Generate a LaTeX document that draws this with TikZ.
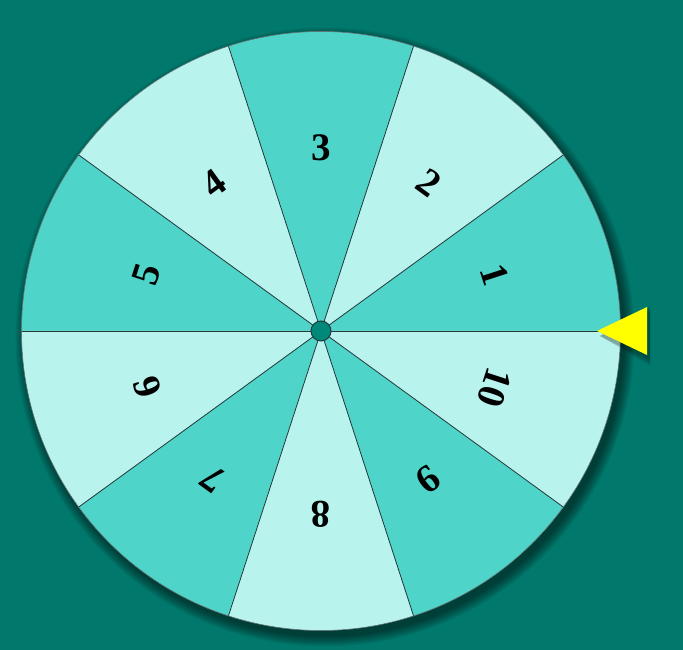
\documentclass[tikz,border=0pt]{standalone}
\usepackage{fontspec}
\setmainfont{Liberation Serif}
\usetikzlibrary{calc}
\definecolor{bgc}{HTML}{00786C}
\definecolor{darkc}{HTML}{4ED4C8}
\definecolor{lightc}{HTML}{B8F3ED}
\definecolor{hubc}{HTML}{00897B}
\definecolor{linec}{HTML}{26393A}
\definecolor{ptrc}{HTML}{FFFF00}
\tikzset{
  slice/.style ={draw=linec,line width=.8pt},
  num/.style   ={font=\fontsize{39}{39}\selectfont\bfseries,text=black,inner sep=0pt},
  hub/.style   ={circle,draw=linec,line width=1pt,fill=hubc,minimum size=20pt,inner sep=0pt},
  shade/.style ={fill=black,opacity=.05},
  ptr/.style   ={fill=ptrc},
}

\begin{document}
\begin{tikzpicture}[x=1pt,y=1pt]
\def\rad{299.5}
\fill[bgc] (0,0) rectangle (683,650);
\useasboundingbox (0,0) rectangle (683,650);
\coordinate (c) at (321,319);

% ============================ shadow ====================================
\foreach \k in {0,...,10}
  \fill[shade] ($(c)+(4,-6)$) circle ({\rad+10-\k});

% ============================ wheel =====================================
\foreach \i/\col in {1/darkc,2/lightc,3/darkc,4/lightc,5/darkc,
                     6/lightc,7/darkc,8/lightc,9/darkc,10/lightc}{
  \pgfmathsetmacro{\a}{(\i-1)*36}
  \fill[\col] (c) -- ++(\a:\rad) arc[start angle=\a,delta angle=36,radius=\rad] -- cycle;
}
\foreach \i in {1,...,10}{
  \pgfmathsetmacro{\a}{(\i-1)*36}
  \draw[slice] (c) -- ++(\a:\rad);
}
\draw[draw=linec!70,line width=.6pt] (c) circle (\rad);
\foreach \i in {1,...,10}{
  \pgfmathsetmacro{\a}{(\i-1)*36+18}
  \node[num,rotate=\a-90] (n\i) at ($(c)+(\a:183)$) {\i};
}
\node[hub] (hb) at (c) {};

% ============================ pointer ===================================
\coordinate (tip) at (597,319);
\foreach \k in {0,...,6}
  \fill[shade] ($(tip)+(3,-5)$) -- ++(50,{24+6-\k}) -- ++(0,{-48-2*(6-\k)}) -- cycle;
\fill[ptr] (tip) -- ++(50,24) -- ++(0,-48) -- cycle;
\end{tikzpicture}
\end{document}
